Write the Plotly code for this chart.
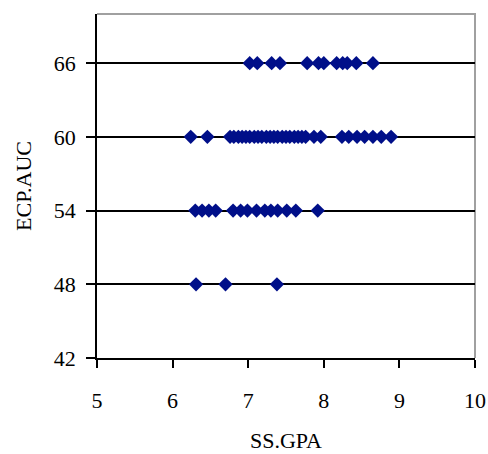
import plotly.graph_objects as go

# Data (SS.GPA values by ECP.AUC level)
gpa_66 = [7.02, 7.12, 7.31, 7.42, 7.78, 7.93, 8.00, 8.17, 8.25, 8.31, 8.43, 8.65]
gpa_60 = [6.24, 6.46, 6.76, 6.81, 6.87, 6.92, 6.97, 7.02, 7.08, 7.13, 7.18, 7.24,
          7.29, 7.34, 7.39, 7.45, 7.50, 7.55, 7.61, 7.66, 7.71, 7.76, 7.87, 7.96,
          8.24, 8.33, 8.44, 8.54, 8.65, 8.76, 8.89]
gpa_54 = [6.30, 6.39, 6.48, 6.57, 6.80, 6.90, 6.99, 7.11, 7.22, 7.30, 7.39, 7.51,
          7.63, 7.92]
gpa_48 = [6.31, 6.70, 7.38]

x_vals = gpa_66 + gpa_60 + gpa_54 + gpa_48
y_vals = [66] * len(gpa_66) + [60] * len(gpa_60) + [54] * len(gpa_54) + [48] * len(gpa_48)

x_ticks = [5, 6, 7, 8, 9, 10]
y_ticks = [42, 48, 54, 60, 66]

FONT = "Liberation Serif"
FS = 22

fig = go.Figure()
fig.add_trace(go.Scatter(
    x=x_vals, y=y_vals, mode="markers",
    marker=dict(symbol="diamond", size=11, color="#000f89", line=dict(width=0)),
    showlegend=False, hoverinfo="x+y", cliponaxis=False,
))

fig.update_layout(
    width=488, height=454,
    margin=dict(l=97, r=13, t=14, b=96, autoexpand=False),
    paper_bgcolor="white", plot_bgcolor="white",
    font=dict(family=FONT, size=FS, color="black"),
    xaxis=dict(
        range=[5, 10], tickvals=x_ticks, ticktext=[str(v) for v in x_ticks],
        showgrid=False, zeroline=False, automargin=False,
        showline=True, linecolor="black", linewidth=1.5,
        ticks="outside", ticklen=8, tickwidth=1.5, tickcolor="black",
        ticklabelstandoff=14, ticklabeloverflow="allow",
        title=dict(text="SS.GPA", standoff=20, font=dict(family=FONT, size=FS)),
        tickfont=dict(family=FONT, size=FS),
    ),
    yaxis=dict(
        range=[42, 70], tickvals=y_ticks, ticktext=[str(v) for v in y_ticks],
        showgrid=True, gridcolor="black", gridwidth=1.5, zeroline=False,
        automargin=False,
        showline=True, linecolor="black", linewidth=1.5,
        ticks="outside", ticklen=9, tickwidth=1.5, tickcolor="black",
        ticklabelstandoff=6,
        title=dict(text="ECP.AUC", standoff=16, font=dict(family=FONT, size=FS)),
        tickfont=dict(family=FONT, size=FS),
    ),
    shapes=[dict(type="path", xref="paper", yref="paper",
                 path="M 0 1 L 1 1 L 1 0", line=dict(color="#a0a0a0", width=2),
                 layer="below")],
)

# remove the browser's default 8px body margin so the figure fills the window exactly
fig.write_html(
    "out.html",
    config={"displayModeBar": False},
    post_script="document.body.style.margin='0';document.body.style.overflow='hidden';",
)
